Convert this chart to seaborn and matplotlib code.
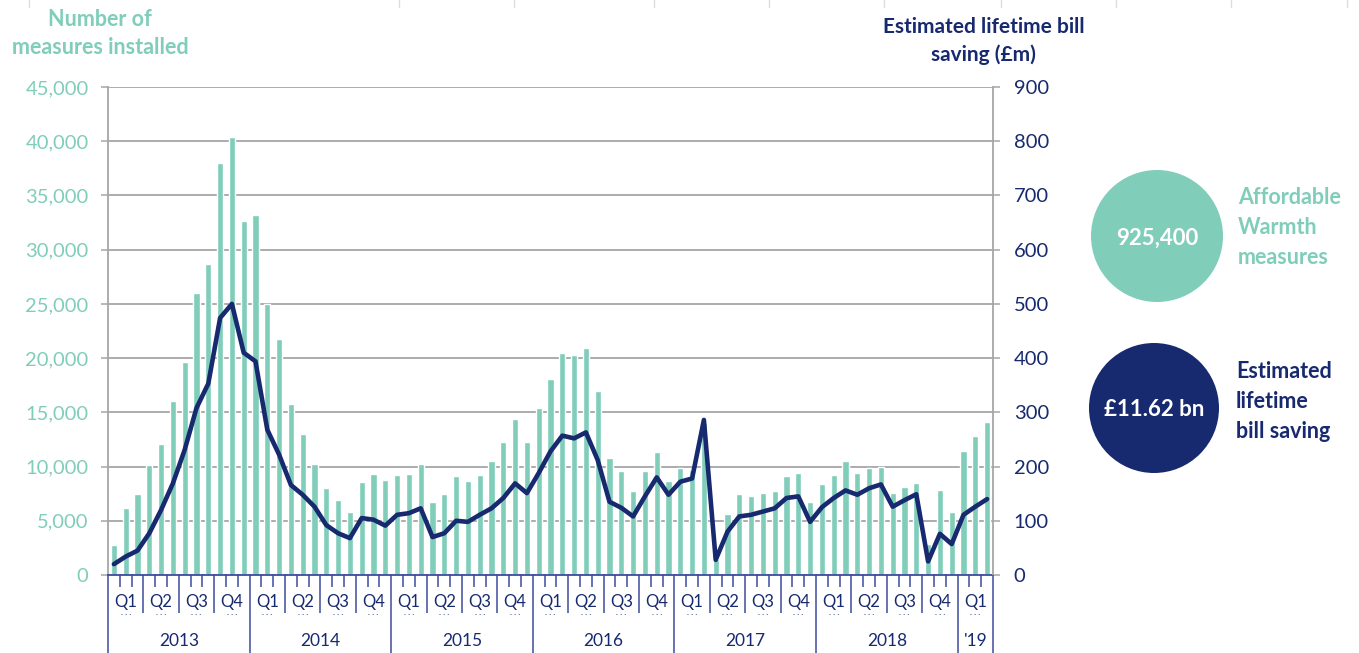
import numpy as np
import pandas as pd
import matplotlib
matplotlib.use("Agg")
import matplotlib.pyplot as plt
import matplotlib.transforms as mtransforms
from matplotlib.patches import Circle
from matplotlib.ticker import FuncFormatter
import seaborn as sns

sns.set_theme(style="white")
plt.rcParams['font.family'] = ['Lato', 'DejaVu Sans']

# ---- data (monthly, Jan 2013 - Mar 2019) ----
years = [2013, 2014, 2015, 2016, 2017, 2018, 2019]
year_labels = ['2013', '2014', '2015', '2016', '2017', '2018', "'19"]
quarter_labels = ['Q1', 'Q2', 'Q3', 'Q4']

measures_2013 = [2800, 6150, 7500, 10100, 12100, 16000, 19600, 26000, 28700, 38000, 40400, 32600]
measures_2014 = [33200, 25000, 21750, 15800, 13000, 10200, 8000, 6900, 5800, 8600, 9300, 8800]
measures_2015 = [9200, 9300, 10250, 6700, 7450, 9100, 8700, 9200, 10500, 12250, 14400, 12300]
measures_2016 = [15400, 18100, 20500, 20300, 20900, 17000, 10800, 9550, 7750, 9600, 11300, 8700]
measures_2017 = [9900, 9700, 14000, 1500, 5600, 7500, 7300, 7550, 7700, 9100, 9450, 6700]
measures_2018 = [8400, 9200, 10550, 9400, 9900, 10000, 7600, 8100, 8450, 2900, 7850, 5800]
measures_2019 = [11400, 12800, 14100]

saving_2013 = [20, 34, 45, 77, 120, 169, 231, 308, 353, 474, 500, 410]
saving_2014 = [394, 268, 222, 166, 148, 126, 92, 77, 68, 105, 102, 91]
saving_2015 = [111, 114, 123, 70, 77, 100, 98, 111, 123, 142, 169, 151]
saving_2016 = [188, 228, 257, 252, 263, 212, 135, 124, 108, 145, 180, 148]
saving_2017 = [172, 178, 286, 28, 80, 108, 111, 117, 123, 142, 145, 98]
saving_2018 = [125, 142, 156, 148, 160, 167, 126, 138, 149, 25, 76, 57]
saving_2019 = [111, 126, 140]

total_measures = '925,400'
total_saving = '£11.62 bn'

measures = (measures_2013 + measures_2014 + measures_2015 + measures_2016
            + measures_2017 + measures_2018 + measures_2019)
saving = (saving_2013 + saving_2014 + saving_2015 + saving_2016
          + saving_2017 + saving_2018 + saving_2019)

months = []
for y in years:
    n = 3 if y == 2019 else 12
    for m in range(1, n + 1):
        months.append(f'{y}-{m:02d}')

df = pd.DataFrame({'month': months, 'measures': measures, 'saving': saving})
df['pos'] = np.arange(len(df))

TEAL = '#80CDBA'
NAVY = '#17296F'
AXBLUE = '#3E4C9E'
GRID = '#A6A6A6'

fig = plt.figure(figsize=(13.59, 6.53), dpi=100)
W, H = 1359, 653
ax = fig.add_axes([108 / W, 78 / H, 885 / W, 488 / H])

sns.barplot(data=df, x='month', y='measures', color=TEAL, saturation=1,
            width=0.52, ax=ax)
ax.set_axisbelow(True)
ax.set_ylim(0, 45000)
ax.set_yticks(range(0, 45001, 5000))
ax.yaxis.set_major_formatter(FuncFormatter(lambda v, p: f'{int(v):,}'))
ax.grid(axis='y', color=GRID, lw=1.3)
ax.grid(axis='x', visible=False)
ax.set_xticks([])
ax.set_xlabel('')
ax.set_ylabel('')
ax.tick_params(axis='y', left=True, length=5, width=1.1, color=GRID,
               labelcolor=TEAL, labelsize=14.5, pad=9)

ax2 = ax.twinx()
sns.lineplot(data=df, x='pos', y='saving', color=NAVY, lw=3.3, ax=ax2)
ax2.set_ylim(0, 900)
ax2.set_yticks(range(0, 901, 100))
ax2.set_ylabel('')
ax2.set_xlabel('')
ax2.tick_params(axis='y', right=True, length=5, width=1.1, color=GRID,
                labelcolor=NAVY, labelsize=14.5, pad=10)
ax.set_xlim(-0.5, len(df) - 0.5)

for s in ['top', 'right']:
    ax.spines[s].set_visible(False)
for s in ['top', 'left', 'bottom']:
    ax2.spines[s].set_visible(False)
ax.spines['left'].set_color(GRID)
ax.spines['left'].set_linewidth(1.3)
ax2.spines['right'].set_color(GRID)
ax2.spines['right'].set_linewidth(1.3)
ax.spines['bottom'].set_color(AXBLUE)
ax.spines['bottom'].set_linewidth(1.3)

# overlay in pixel coordinates for annotations
ov = fig.add_axes([0, 0, 1, 1])
ov.set_autoscale_on(False)
ov.set_xlim(0, W)
ov.set_ylim(H, 0)
ov.axis('off')
trans = mtransforms.blended_transform_factory(ax.transData, ov.transData)

# multi-level category axis
n = len(df)
for k in range(n + 1):
    x = k - 0.5
    if k % 12 == 0 or k == n:
        y1 = 653
    elif k % 3 == 0:
        y1 = 613
    else:
        y1 = 587
    ov.plot([x, x], [575, y1], color=AXBLUE, lw=1.1, transform=trans,
            clip_on=False, solid_capstyle='butt')

for q in range(n // 3):
    xc = q * 3 + 1
    ov.text(xc, 602, quarter_labels[q % 4], transform=trans, ha='center',
            va='center', color=NAVY, fontsize=12)
    ov.text(xc, 615, '. . .', transform=trans, ha='center', va='baseline',
            color=NAVY, fontsize=6)

start = 0
for y, lab in zip(years, year_labels):
    cnt = 3 if y == 2019 else 12
    ov.text(start + (cnt - 1) / 2, 641, lab, transform=trans, ha='center',
            va='center', color=NAVY, fontsize=12.5)
    start += cnt

# axis titles
ov.text(100, 20, 'Number of', ha='center', va='center', color=TEAL,
        fontsize=15.5, weight='bold')
ov.text(100, 48, 'measures installed', ha='center', va='center', color=TEAL,
        fontsize=15.5, weight='bold')
ov.text(984, 27, 'Estimated lifetime bill', ha='center', va='center',
        color=NAVY, fontsize=15, weight='bold')
ov.text(983, 55, 'saving (£m)', ha='center', va='center', color=NAVY,
        fontsize=15, weight='bold')

# summary circles
ov.add_patch(Circle((1157, 236), 66, color=TEAL, lw=0))
ov.text(1157, 238, total_measures, ha='center', va='center', color='white',
        fontsize=16, weight='bold')
ov.add_patch(Circle((1154, 408), 65, color=NAVY, lw=0))
ov.text(1154, 410, total_saving, ha='center', va='center', color='white',
        fontsize=16, weight='bold')

for i, t in enumerate(['Affordable', 'Warmth', 'measures']):
    ov.text(1238, 198 + i * 29.5, t, ha='left', va='center', color=TEAL,
            fontsize=15.5, weight='bold')
for i, t in enumerate(['Estimated', 'lifetime', 'bill saving']):
    ov.text(1236, 372 + i * 30, t, ha='left', va='center', color=NAVY,
            fontsize=15.5, weight='bold')

# faint frame ticks along the top edge
for x in [29, 399, 514, 654, 769, 884, 1001, 1116, 1231, 1347]:
    ov.plot([x, x], [0, 7], color='#DDDDDD', lw=1)

fig.savefig('out.png', dpi=100)
